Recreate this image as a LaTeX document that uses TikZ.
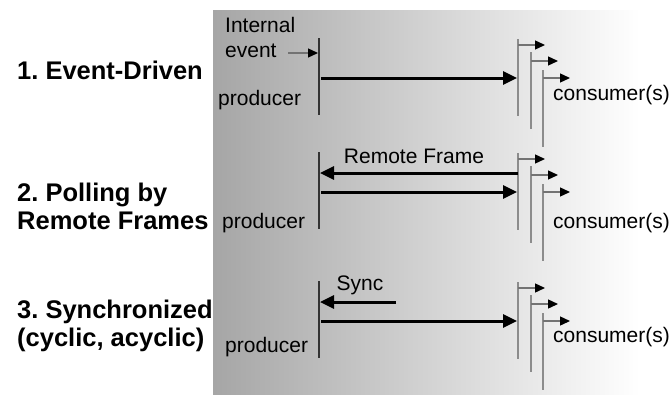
\documentclass[tikz,border=0pt]{standalone}
\usepackage{fontspec}
\setmainfont{Liberation Sans}
\usetikzlibrary{arrows.meta}
\frenchspacing

\tikzset{
	bigarrow/.style={line width=3pt,-{Triangle[length=14pt,width=13pt]}},
	smallarrow/.style={line width=1.3pt,black!55,-{Triangle[color=black,length=10pt,width=9pt]}},
	prodline/.style={line width=1.3pt,black!80},
	consline/.style={line width=1.6pt,black!45},
	title/.style={font=\fontsize{25.5}{28}\selectfont\bfseries,align=left,inner sep=0pt,anchor=west},
	small/.style={font=\fontsize{21}{25}\selectfont,align=left,inner sep=0pt},
}

\begin{document}
\begin{tikzpicture}[x=1pt,y=-1pt]

	\useasboundingbox (0,0) rectangle (671,394);
	\shade[left color=black!35,right color=white] (213,10) rectangle (640,394);
	\fill[white] (640,10) rectangle (671,394);

	% the three producer/consumer groups
	\foreach \t/\i in {39/1,153/2,282/3}{
		\coordinate (ptop\i) at (319,\t-1);
		\coordinate (pbot\i) at (319,\t+76);
		\draw[prodline] (ptop\i) -- (pbot\i);

		\foreach \k/\dx/\dy/\ay in {1/0/0/6,2/13/13/22,3/25/31/39}{
			\coordinate (ctop\i\k) at (518+\dx,\t+\dy);
			\coordinate (cbot\i\k) at (518+\dx,\t+\dy+77);
			\coordinate (cout\i\k) at (518+\dx,\t+\ay);
			\coordinate (cend\i\k) at (545+\dx,\t+\ay);
			\draw[consline] (ctop\i\k) -- (cbot\i\k);
			\draw[smallarrow] (cout\i\k) -- (cend\i\k);
		}

		\coordinate (src\i) at (321,\t+39);
		\coordinate (dst\i) at (517,\t+39);
		\draw[bigarrow] (src\i) -- (dst\i);
	}

	\node[title] (lbl1) at (17,70)  {1. Event-Driven};
	\node[title] (lbl2) at (17,206) {2. Polling by\\Remote Frames};
	\node[title] (lbl3) at (17,326) {3. Synchronized\\(cyclic, acyclic)};

	\node[small,anchor=west] (prod1) at (218,100) {producer};
	\node[small,anchor=west] (prod2) at (222,223) {producer};
	\node[small,anchor=west] (prod3) at (225,347) {producer};

	\node[small,anchor=west] (cons1) at (553,95)  {consumer(s)};
	\node[small,anchor=west] (cons2) at (553,223) {consumer(s)};
	\node[small,anchor=west] (cons3) at (553,337) {consumer(s)};

	% internal event
	\node[small,anchor=west] (ievent) at (225,37) {Internal\\event};
	\coordinate (evs) at (288,53);
	\coordinate (eve) at (318,53);
	\draw[smallarrow] (evs) -- (eve);

	% remote frame
	\node[small] (rframe) at (414,156) {Remote Frame};
	\coordinate (rfs) at (518,173);
	\coordinate (rfe) at (320,173);
	\draw[bigarrow] (rfs) -- (rfe);

	% sync
	\node[small] (sync) at (360,285) {Sync};
	\coordinate (sys) at (396,302);
	\coordinate (sye) at (320,302);
	\draw[bigarrow] (sys) -- (sye);

\end{tikzpicture}
\end{document}
